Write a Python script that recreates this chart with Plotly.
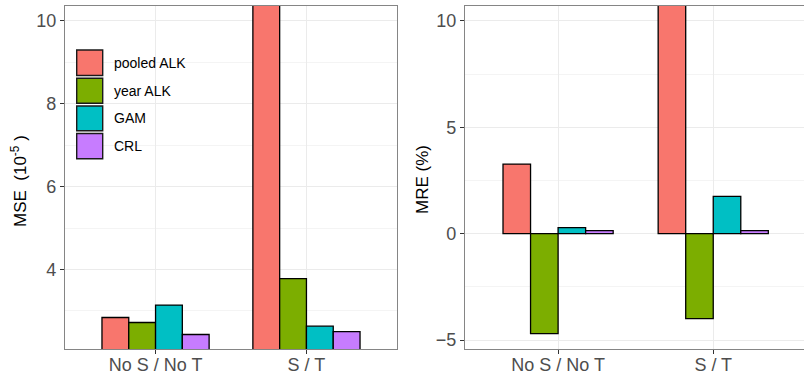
import plotly.graph_objects as go

categories = ["No S / No T", "S / T"]
methods = ["pooled ALK", "year ALK", "GAM", "CRL"]
colors = ["#F8766D", "#7CAE00", "#00BFC4", "#C77CFF"]

# MSE (x 1e-5); pooled ALK S/T runs off the top of the panel
mse_pooled = [2.84, 14.0]
mse_year = [2.72, 3.78]
mse_gam = [3.14, 2.63]
mse_crl = [2.43, 2.50]

# MRE (%); pooled ALK S/T runs off the top of the panel
mre_pooled = [3.27, 12.0]
mre_year = [-4.70, -3.99]
mre_gam = [0.28, 1.75]
mre_crl = [0.14, 0.14]

mse_vals = [mse_pooled, mse_year, mse_gam, mse_crl]
mre_vals = [mre_pooled, mre_year, mre_gam, mre_crl]

W, H = 804, 375
FONT = "Liberation Sans, Arial, sans-serif"
GRID = "#EBEBEB"
MINOR = "#F4F4F4"
BORDER = "#858585"
TICKS = "#333333"
TICKC = "#4D4D4D"

fig = go.Figure()
for name, col, v in zip(methods, colors, mse_vals):
    fig.add_trace(go.Bar(x=categories, y=v, name=name, marker=dict(color=col, line=dict(color="black", width=1.3)),
                         xaxis="x", yaxis="y", showlegend=False, offsetgroup=name))
for name, col, v in zip(methods, colors, mre_vals):
    fig.add_trace(go.Bar(x=categories, y=v, name=name, marker=dict(color=col, line=dict(color="black", width=1.3)),
                         xaxis="x2", yaxis="y2", showlegend=False, offsetgroup=name))

def px_x(p):
    return p / W

def px_y(p):
    return 1 - p / H

ydom = [px_y(349), px_y(6)]

common_x = dict(type="category", showgrid=True, gridcolor=GRID, gridwidth=1.1, showline=True, linecolor=BORDER,
                linewidth=1.4, mirror=True, ticks="outside", ticklen=4, tickcolor=TICKS, tickwidth=1,
                tickfont=dict(family=FONT, size=18, color=TICKC), zeroline=False, fixedrange=True,
                automargin=False, ticklabelstandoff=-5)
common_y = dict(showgrid=True, gridcolor=GRID, gridwidth=1.1, showline=True, linecolor=BORDER, linewidth=1.4,
                ticks="outside", ticklen=4, tickcolor=TICKS, tickwidth=1,
                tickfont=dict(family=FONT, size=18, color=TICKC), zeroline=False, automargin=False)

fig.update_layout(
    width=W, height=H,
    margin=dict(l=0, r=0, t=0, b=0),
    paper_bgcolor="white", plot_bgcolor="white",
    barmode="group", bargap=0.29, bargroupgap=0,
    xaxis=dict(domain=[px_x(65), px_x(397)], anchor="y", range=[-0.6, 1.6], **common_x),
    yaxis=dict(domain=ydom, anchor="x", range=[2.08, 10.36], tickvals=[4, 6, 8, 10], mirror=True,
               minor=dict(tickvals=[3, 5, 7, 9], showgrid=True, gridcolor=MINOR, gridwidth=0.6, ticks=""),
               **common_y),
    xaxis2=dict(domain=[px_x(465), 1.0], anchor="y2", range=[-0.6, 1.585], **common_x),
    yaxis2=dict(domain=ydom, anchor="x2", range=[-5.42, 10.70], tickvals=[-5, 0, 5, 10], mirror=False,
                minor=dict(tickvals=[-2.5, 2.5, 7.5], showgrid=True, gridcolor=MINOR, gridwidth=0.6, ticks=""),
                **common_y),
    showlegend=False,
)

# axis titles
fig.add_annotation(x=px_x(19), y=px_y(181), xref="paper", yref="paper", text="MSE  (10<sup>-5</sup> )",
                   textangle=-90, showarrow=False, font=dict(family=FONT, size=17, color="black"),
                   xanchor="center", yanchor="middle")
fig.add_annotation(x=px_x(422), y=px_y(180), xref="paper", yref="paper", text="MRE (%)",
                   textangle=-90, showarrow=False, font=dict(family=FONT, size=17, color="black"),
                   xanchor="center", yanchor="middle")

# legend inside left panel
key_rows = [(50, 75.5), (78.3, 103.3), (106, 130.7), (133.5, 158.7)]
for (y0, y1), name, col in zip(key_rows, methods, colors):
    fig.add_shape(type="rect", xref="paper", yref="paper", x0=px_x(76.7), x1=px_x(102.7),
                  y0=px_y(y1), y1=px_y(y0), fillcolor=col, line=dict(color="#1a1a1a", width=1.4))
    fig.add_annotation(x=px_x(112), y=px_y((y0 + y1) / 2), xref="paper", yref="paper", text=name,
                       showarrow=False, xanchor="left", yanchor="middle",
                       font=dict(family=FONT, size=14, color="black"))

fig.write_html("out.html", config={"displayModeBar": False},
               post_script="document.body.style.margin='0';document.body.style.overflow='hidden';")
